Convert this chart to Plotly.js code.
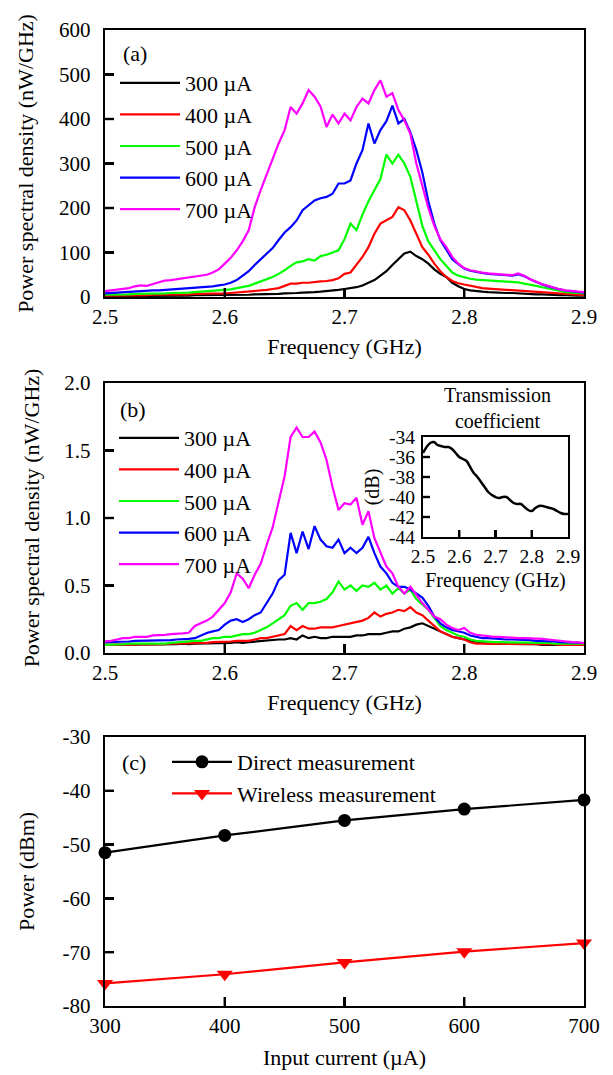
<!DOCTYPE html>
<html>
<head>
<meta charset="utf-8">
<script src="https://cdn.plot.ly/plotly-3.0.1.min.js"></script>
<style>html,body{margin:0;padding:0;background:#fff;}#chart{width:613px;height:1075px;}</style>
</head>
<body>
<div id="chart"></div>
<script>
// ---------- data ----------
const freq = [2.500,2.505,2.510,2.515,2.520,2.525,2.530,2.535,2.540,2.545,
2.550,2.555,2.560,2.565,2.570,2.575,2.580,2.585,2.590,2.595,
2.600,2.605,2.610,2.615,2.620,2.625,2.630,2.635,2.640,2.645,
2.650,2.655,2.660,2.665,2.670,2.675,2.680,2.685,2.690,2.695,
2.700,2.705,2.710,2.715,2.720,2.725,2.730,2.735,2.740,2.745,
2.750,2.755,2.760,2.765,2.770,2.775,2.780,2.785,2.790,2.795,
2.800,2.805,2.810,2.815,2.820,2.825,2.830,2.835,2.840,2.845,
2.850,2.855,2.860,2.865,2.870,2.875,2.880,2.885,2.890,2.895,
2.900];

const seriesNames = ["300 \u00b5A","400 \u00b5A","500 \u00b5A","600 \u00b5A","700 \u00b5A"];
const seriesColors = ["#000000","#ff0000","#00ff00","#0000ff","#ff00ff"];

// (a) power spectral density, nW/GHz
const psdA300 = [2,2,2,2,2,2,3,3,3,3, 3,3,3,3,3,4,4,4,4,4, 4,5,5,5,5,6,6,6,7,7, 8,8,9,10,10,11,12,13,14,16,
 18,20,22,26,32,38,48,58,72,85, 98,102,92,85,75,62,52,45,32,24, 18,15,13,12,11,10,10,9,9,8, 8,7,6,6,5,5,4,4,3,3, 3];
const psdA400 = [3,3,3,3,4,4,4,4,5,5, 5,5,6,6,6,7,7,7,8,8, 8,9,10,11,12,13,15,16,18,20, 25,30,30,32,32,34,35,36,38,42,
 52,55,72,90,112,142,165,172,180,202, 195,172,140,112,95,75,58,45,36,31, 28,25,22,20,19,18,17,16,16,15, 14,13,11,10,9,8,7,6,5,5, 4];
const psdA500 = [5,5,6,6,6,7,7,7,8,8, 8,9,9,10,10,11,12,12,13,14, 15,17,20,22,25,30,35,40,45,52, 60,70,78,80,85,82,92,95,100,105,
 130,165,150,185,215,240,265,320,300,320, 300,270,215,160,125,105,85,70,55,48, 44,41,39,38,37,36,35,34,34,33, 30,28,25,22,19,16,13,11,10,9, 8];
const psdA600 = [8,9,10,11,12,13,13,14,15,15, 16,16,17,18,19,20,21,22,24,26, 28,32,38,48,58,72,85,97,110,128, 145,157,172,195,205,217,222,225,232,255,
 255,262,300,330,390,345,375,395,430,390, 400,370,330,280,215,165,128,105,85,74, 64,59,56,54,52,51,50,49,48,51, 47,40,34,28,24,20,17,14,13,11, 10];
const psdA700 = [13,15,17,19,20,24,26,25,29,33, 37,38,40,42,44,46,48,50,55,62, 75,88,105,125,150,202,240,275,307,345, 375,427,412,435,465,450,428,382,410,390,
 412,397,427,446,435,465,487,450,458,420, 397,367,300,250,200,160,130,112,90,75, 65,60,57,55,53,52,50,50,49,53, 48,40,34,29,25,21,17,15,13,12, 11];

// (b) received power spectral density, nW/GHz
const psdB300 = [0.06,0.06,0.06,0.06,0.06,0.06,0.06,0.065,0.06,0.06, 0.065,0.065,0.065,0.07,0.065,0.07,0.07,0.07,0.07,0.07,
 0.07,0.075,0.08,0.075,0.08,0.085,0.09,0.09,0.095,0.10, 0.10,0.11,0.10,0.13,0.11,0.12,0.11,0.11,0.12,0.12,
 0.12,0.12,0.13,0.13,0.14,0.14,0.14,0.15,0.16,0.16, 0.18,0.19,0.21,0.22,0.20,0.18,0.16,0.14,0.12,0.11,
 0.10,0.09,0.08,0.075,0.07,0.07,0.07,0.07,0.07,0.065, 0.065,0.065,0.065,0.06,0.06,0.06,0.06,0.06,0.06,0.06, 0.06];
const psdB400 = [0.06,0.06,0.06,0.065,0.065,0.06,0.065,0.065,0.06,0.065, 0.065,0.07,0.07,0.07,0.07,0.075,0.075,0.075,0.08,0.08,
 0.08,0.085,0.09,0.09,0.09,0.10,0.11,0.11,0.12,0.13, 0.14,0.20,0.17,0.20,0.18,0.18,0.19,0.19,0.19,0.20,
 0.21,0.22,0.23,0.24,0.26,0.30,0.27,0.29,0.30,0.32, 0.31,0.34,0.30,0.28,0.24,0.20,0.16,0.14,0.12,0.11,
 0.10,0.08,0.07,0.07,0.07,0.07,0.07,0.07,0.07,0.07, 0.07,0.07,0.065,0.065,0.065,0.065,0.06,0.06,0.06,0.06, 0.06];
const psdB500 = [0.06,0.06,0.065,0.065,0.07,0.07,0.07,0.065,0.07,0.07, 0.07,0.075,0.08,0.08,0.085,0.09,0.09,0.10,0.11,0.11,
 0.12,0.12,0.13,0.14,0.14,0.15,0.17,0.19,0.22,0.25, 0.28,0.35,0.37,0.32,0.37,0.37,0.38,0.40,0.45,0.53,
 0.47,0.50,0.46,0.50,0.49,0.52,0.47,0.50,0.44,0.48, 0.44,0.47,0.40,0.36,0.32,0.26,0.20,0.17,0.15,0.13,
 0.12,0.10,0.09,0.085,0.08,0.08,0.08,0.08,0.08,0.08, 0.08,0.08,0.08,0.075,0.075,0.07,0.07,0.07,0.07,0.07, 0.07];
const psdB600 = [0.08,0.08,0.08,0.085,0.085,0.09,0.09,0.09,0.09,0.09, 0.09,0.095,0.10,0.10,0.105,0.11,0.13,0.148,0.16,0.17,
 0.21,0.24,0.25,0.23,0.25,0.28,0.30,0.37,0.44,0.54, 0.58,0.89,0.74,0.90,0.77,0.94,0.84,0.79,0.78,0.84,
 0.74,0.78,0.74,0.78,0.86,0.74,0.64,0.59,0.52,0.49, 0.49,0.47,0.44,0.41,0.35,0.27,0.22,0.19,0.17,0.16,
 0.15,0.13,0.12,0.11,0.11,0.105,0.10,0.10,0.10,0.10, 0.10,0.095,0.09,0.09,0.09,0.085,0.08,0.08,0.078,0.076, 0.074];
const psdB700 = [0.086,0.09,0.10,0.11,0.11,0.12,0.12,0.12,0.13,0.13, 0.135,0.14,0.14,0.145,0.15,0.20,0.22,0.24,0.27,0.32,
 0.37,0.45,0.59,0.55,0.48,0.58,0.66,0.80,0.93,1.12, 1.31,1.60,1.67,1.60,1.60,1.64,1.56,1.43,1.23,1.06,
 1.11,1.10,1.15,0.95,1.05,0.85,0.74,0.64,0.59,0.49, 0.44,0.49,0.43,0.37,0.32,0.27,0.25,0.21,0.185,0.17,
 0.185,0.15,0.135,0.13,0.12,0.12,0.12,0.115,0.11,0.11, 0.11,0.11,0.11,0.105,0.10,0.095,0.086,0.085,0.08,0.078, 0.074];

// inset: transmission coefficient, dB
const freqInset = [2.50,2.51,2.52,2.53,2.54,2.55,2.56,2.57,2.58,2.59,2.60,2.61,2.62,2.63,2.64,2.65,2.66,2.67,2.68,2.69,
 2.70,2.71,2.72,2.73,2.74,2.75,2.76,2.77,2.78,2.79,2.80,2.81,2.82,2.83,2.84,2.85,2.86,2.87,2.88,2.89,2.90];
const transCoef = [-35.6,-35.0,-34.6,-34.5,-34.8,-34.9,-35.0,-35.0,-35.2,-35.6,-36.0,-36.2,-36.4,-37.0,-37.6,-38.0,-38.5,-39.0,-39.5,-39.8,
 -40.0,-40.1,-40.0,-40.0,-40.3,-40.6,-40.7,-40.7,-41.0,-41.3,-41.4,-41.1,-40.9,-40.9,-41.0,-41.1,-41.2,-41.4,-41.6,-41.7,-41.7];

// (c) power vs input current
const current = [300,400,500,600,700];
const directPower = [-51.5,-48.3,-45.5,-43.4,-41.7];
const wirelessPower = [-75.8,-74.1,-71.9,-69.9,-68.3];

// tick labels
const freqTicks = [2.5,2.6,2.7,2.8,2.9];
const freqTickText = ["2.5","2.6","2.7","2.8","2.9"];
const psdATicks = [0,100,200,300,400,500,600];
const psdATickText = ["0","100","200","300","400","500","600"];
const psdBTicks = [0,0.5,1,1.5,2];
const psdBTickText = ["0.0","0.5","1.0","1.5","2.0"];
const powerTicks = [-80,-70,-60,-50,-40,-30];
const powerTickText = ["-80","-70","-60","-50","-40","-30"];
const currentTicks = [300,400,500,600,700];
const currentTickText = ["300","400","500","600","700"];
const insetYTicks = [-44,-42,-40,-38,-36,-34];
const insetYTickText = ["-44","-42","-40","-38","-36","-34"];

// ---------- build ----------
const FONT = "Liberation Serif, Times New Roman, serif";
const W = 613, H = 1075;
const px = v => v / W;
const py = v => 1 - v / H;

const traces = [];
const seriesA = [psdA300, psdA400, psdA500, psdA600, psdA700];
const seriesB = [psdB300, psdB400, psdB500, psdB600, psdB700];
seriesA.forEach((ys, i) => traces.push({
  x: freq, y: ys, type: "scatter", mode: "lines", name: seriesNames[i],
  line: {color: seriesColors[i], width: 2.2}, xaxis: "x", yaxis: "y", legend: "legend",
  legendgroup: "a" + i
}));
seriesB.forEach((ys, i) => traces.push({
  x: freq, y: ys, type: "scatter", mode: "lines", name: seriesNames[i],
  line: {color: seriesColors[i], width: 2.2}, xaxis: "x2", yaxis: "y2", legend: "legend2",
  legendgroup: "b" + i
}));
traces.push({
  x: freqInset, y: transCoef, type: "scatter", mode: "lines", name: "Transmission coefficient",
  line: {color: "#000", width: 2.5, shape: "spline"}, xaxis: "x4", yaxis: "y4", showlegend: false
});
traces.push({
  x: current, y: directPower, type: "scatter", mode: "lines+markers", name: "Direct measurement",
  line: {color: "#000", width: 2.2}, marker: {symbol: "circle", size: 13, color: "#000"},
  xaxis: "x3", yaxis: "y3", legend: "legend3", legendgroup: "c0", cliponaxis: false
});
traces.push({
  x: current, y: wirelessPower, type: "scatter", mode: "lines+markers", name: "Wireless measurement",
  line: {color: "#ff0000", width: 2.2}, marker: {symbol: "triangle-down", size: 14, color: "#ff0000"},
  xaxis: "x3", yaxis: "y3", legend: "legend3", legendgroup: "c1", cliponaxis: false
});

// inward tick marks as short line segments (length given in px, converted via axis scale)
function tickMarks(xa, ya, xvals, yvals, xr, yr, wpx, hpx, len) {
  const dx = len * (xr[1] - xr[0]) / wpx, dy = len * (yr[1] - yr[0]) / hpx;
  const xs = [], ys = [];
  xvals.slice(1, -1).forEach(v => { xs.push(v, v, null); ys.push(yr[0], yr[0] + dy, null); });
  yvals.slice(1, -1).forEach(v => { xs.push(xr[0], xr[0] + dx, null); ys.push(v, v, null); });
  traces.push({x: xs, y: ys, type: "scatter", mode: "lines", xaxis: xa, yaxis: ya,
    line: {color: "#000", width: 2.4}, connectgaps: false, showlegend: false, hoverinfo: "skip"});
}
tickMarks("x", "y", freqTicks, psdATicks, [2.5, 2.9], [0, 600], 479, 267, 9);
tickMarks("x2", "y2", freqTicks, psdBTicks, [2.5, 2.9], [0, 2], 479, 270, 9);
tickMarks("x3", "y3", currentTicks, powerTicks, [300, 700], [-80, -30], 479, 269, 9);
tickMarks("x4", "y4", freqTicks, insetYTicks, [2.5, 2.9], [-44, -34], 145, 100, 7);

const axBase = {
  showline: true, linecolor: "#000", linewidth: 2.2, mirror: true,
  ticks: "inside", ticklen: 9, tickwidth: 2.2, tickcolor: "#000",
  showgrid: false, zeroline: false,
  tickfont: {family: FONT, size: 21, color: "#000"},
  tickmode: "array", autorange: false
};
const titleFont = {family: FONT, size: 22, color: "#000"};
const xDom = [px(105), px(584)];

const legendBase = {
  xanchor: "left", yanchor: "top", bgcolor: "rgba(0,0,0,0)", borderwidth: 0,
  font: {family: FONT, size: 22, color: "#000"}, itemwidth: 60, tracegroupgap: 1,
  traceorder: "normal"
};
const annFont = {family: FONT, size: 22, color: "#000"};

const layout = {
  width: W, height: H, margin: {l: 0, r: 0, t: 0, b: 0},
  paper_bgcolor: "#fff", plot_bgcolor: "rgba(0,0,0,0)",
  font: {family: FONT, color: "#000"},
  showlegend: true,
  xaxis: Object.assign({}, axBase, {domain: xDom, anchor: "y", range: [2.5, 2.9],
    tickvals: freqTicks, ticktext: freqTickText,
    title: {text: "Frequency (GHz)", font: titleFont, standoff: 10}}),
  yaxis: Object.assign({}, axBase, {domain: [py(297), py(30)], anchor: "x", range: [0, 600],
    tickvals: psdATicks, ticktext: psdATickText, ticklabelstandoff: 8,
    title: {text: "Power spectral density (nW/GHz)", font: titleFont, standoff: 19}}),
  xaxis2: Object.assign({}, axBase, {domain: xDom, anchor: "y2", range: [2.5, 2.9],
    tickvals: freqTicks, ticktext: freqTickText,
    title: {text: "Frequency (GHz)", font: titleFont, standoff: 10}}),
  yaxis2: Object.assign({}, axBase, {domain: [py(653), py(383)], anchor: "x2", range: [0, 2],
    tickvals: psdBTicks, ticktext: psdBTickText, ticklabelstandoff: 8,
    title: {text: "Power spectral density (nW/GHz)", font: titleFont, standoff: 19}}),
  xaxis3: Object.assign({}, axBase, {domain: xDom, anchor: "y3", range: [300, 700],
    tickvals: currentTicks, ticktext: currentTickText,
    title: {text: "Input current (\u00b5A)", font: titleFont, standoff: 12}}),
  yaxis3: Object.assign({}, axBase, {domain: [py(1006), py(737)], anchor: "x3", range: [-80, -30],
    tickvals: powerTicks, ticktext: powerTickText, ticklabelstandoff: 8,
    title: {text: "Power (dBm)", font: titleFont, standoff: 22}}),
  xaxis4: Object.assign({}, axBase, {domain: [px(423), px(568)], anchor: "y4", range: [2.5, 2.9],
    tickvals: freqTicks, ticktext: freqTickText, ticklen: 7,
    tickfont: {family: FONT, size: 19.5, color: "#000"},
    title: {text: "Frequency (GHz)", font: {family: FONT, size: 20, color: "#000"}, standoff: 8}}),
  yaxis4: Object.assign({}, axBase, {domain: [py(537), py(437)], anchor: "x4", range: [-44, -34],
    tickvals: insetYTicks, ticktext: insetYTickText, ticklen: 7, ticklabelstandoff: 2,
    tickfont: {family: FONT, size: 19.5, color: "#000"},
    title: {text: "(dB)", font: {family: FONT, size: 20, color: "#000"}, standoff: 4}}),
  legend: Object.assign({}, legendBase, {x: px(115), y: py(62)}),
  legend2: Object.assign({}, legendBase, {x: px(114), y: py(417)}),
  legend3: Object.assign({}, legendBase, {x: px(167), y: py(741), tracegroupgap: 0}),
  annotations: [
    {text: "(a)", x: px(135), y: py(53), xref: "paper", yref: "paper", showarrow: false,
     xanchor: "center", yanchor: "middle", font: annFont},
    {text: "(b)", x: px(133), y: py(410), xref: "paper", yref: "paper", showarrow: false,
     xanchor: "center", yanchor: "middle", font: annFont},
    {text: "(c)", x: px(134), y: py(762), xref: "paper", yref: "paper", showarrow: false,
     xanchor: "center", yanchor: "middle", font: annFont},
    {text: "Transmission<br>coefficient", x: px(497), y: py(408), xref: "paper", yref: "paper",
     showarrow: false, xanchor: "center", yanchor: "middle",
     font: {family: FONT, size: 20, color: "#000"}}
  ]
};

Plotly.newPlot("chart", traces, layout, {displayModeBar: false, staticPlot: true});
</script>
</body>
</html>
